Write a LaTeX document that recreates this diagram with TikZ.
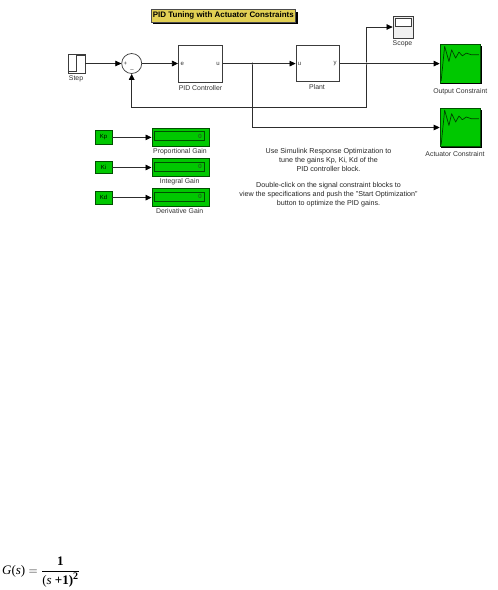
\documentclass[tikz,border=0pt]{standalone}
\usepackage{fontspec}
\setmainfont{Liberation Sans}
\newfontfamily\serifform{Liberation Serif}
\usetikzlibrary{arrows.meta,calc}
\definecolor{simgreen}{RGB}{0,200,0}
\definecolor{darkgreen}{RGB}{0,80,0}
\definecolor{titleyellow}{RGB}{226,208,84}
\definecolor{wirecol}{RGB}{45,45,45}
\definecolor{framecol}{RGB}{60,60,60}
\tikzset{
 x=1pt,y=-1pt,
 block/.style={draw=framecol,line width=0.7pt,fill=white,inner sep=0pt,minimum width=44.4pt,minimum height=37pt},
 sigbox/.style={draw=darkgreen,line width=0.6pt,fill=simgreen,inner sep=0pt,minimum width=40.7pt,minimum height=38.4pt},
 gainbox/.style={draw=darkgreen,line width=0.7pt,fill=simgreen,inner sep=0pt,minimum width=17pt,minimum height=13.5pt,font=\fontsize{6}{7}\selectfont},
 dispbox/.style={draw=darkgreen,line width=1pt,fill=simgreen,inner sep=0pt,minimum width=57pt,minimum height=17.6pt},
 sig/.style={draw=wirecol,line width=0.7pt},
 arr/.style={sig,-{Triangle[length=6pt,width=5.6pt,color=black]}},
 lab/.style={inner sep=0pt,text=black!80,font=\fontsize{6.9}{8}\selectfont},
 port/.style={inner sep=0pt,text=black!80,font=\fontsize{6}{7}\selectfont},
 note/.style={inner sep=0pt,text=black!85,align=center,font=\fontsize{7.15}{9.1}\selectfont},
 jdot/.style={circle,fill=black,inner sep=0pt,minimum size=2.2pt},
}
\newcommand{\sigcurve}[1]{%
 \fill[black] ($(#1.south west)+(1.6,0)$) rectangle ($(#1.south east)+(1.2,1.2)$);
 \fill[black] ($(#1.north east)+(0,1.6)$) rectangle ($(#1.south east)+(1.2,0)$);
 \draw[black!75!green,line width=0.7pt,line join=round,shift={(#1.north west)}]
  (1.5,36.7) -- (5,2.2) -- (9.3,17.4) -- (12,5.7) -- (16,14) -- (19.3,8) -- (22.7,11.7) -- (26.7,9) -- (31.7,10.7) -- (39.3,10.7);
}
\newcommand{\gaindisp}[1]{%
 \draw[darkgreen,line width=0.7pt] ($(#1.north west)+(3,3.7)$) rectangle ($(#1.north east)+(-5,12.7)$);
 \node[inner sep=0pt,font=\fontsize{6}{7}\selectfont,text=black!80] at ($(#1.north east)+(-9.5,8.2)$) {0};
}
\begin{document}
\begin{tikzpicture}
\useasboundingbox[fill=white] (0,0) rectangle (498,590);
% title
\fill (153,11.5) rectangle (297.5,24);
\node[draw=black!70,line width=0.5pt,fill=titleyellow,inner sep=0pt,minimum width=144.6pt,minimum height=12.4pt,font=\bfseries\fontsize{7.95}{9}\selectfont] (title) at (223.3,15.6) {PID Tuning with Actuator Constraints};
% blocks
\node[draw=framecol,line width=0.8pt,fill=white,inner sep=0pt,minimum width=17pt,minimum height=19pt] (step) at (76.5,63.5) {};
\draw[framecol,line width=0.7pt] ($(step.south west)+(0.2,-2.2)$) -- ($(step.south west)+(8.5,-2.2)$) -- ($(step.north west)+(8.5,1.6)$) -- ($(step.north east)+(-0.2,1.6)$);
\node[lab] (steplab) at (76,79) {Step};
\node[circle,draw=framecol,line width=0.7pt,fill=white,inner sep=0pt,minimum size=20pt] (sum) at (131.7,63.5) {};
\node[port] (plus) at (125.5,63.6) {+};
\node[port] (minus) at (132,70.3) {--};
\node[block] (pid) at (200.5,63.6) {};
\node[port] (pide) at (182.2,63.6) {e};
\node[port] (pidu) at (218,63.6) {u};
\node[lab] (pidlab) at (200.5,88.3) {PID Controller};
\node[block,minimum width=43.7pt,minimum height=36.4pt] (plant) at (317.8,63.6) {};
\node[port] (plantu) at (299.5,63.6) {u};
\node[port] (planty) at (335,64) {y};
\node[lab] (plantlab) at (317,87.3) {Plant};
\node[draw=framecol,line width=0.7pt,fill=black!6,inner sep=0pt,minimum width=20.7pt,minimum height=22pt] (scope) at (403.3,27) {};
\draw[framecol,line width=0.6pt,fill=white] ($(scope.north west)+(2.5,3)$) rectangle ($(scope.north east)+(-2.5,11)$);
\node[lab] (scopelab) at (402.5,43.5) {Scope};
\node[sigbox] (out) at (460.3,63.6) {};
\sigcurve{out}
\node[lab] (outlab) at (460.3,91.3) {Output Constraint};
\node[sigbox] (act) at (460.3,127.5) {};
\sigcurve{act}
\node[lab] (actlab) at (455,154) {Actuator Constraint};
% gains
\node[gainbox] (kp) at (103.5,137.4) {Kp};
\node[gainbox,minimum height=12.4pt] (ki) at (103.5,167.5) {Ki};
\node[gainbox] (kd) at (103.5,197.6) {Kd};
\node[dispbox] (dp) at (180.5,137.4) {};
\gaindisp{dp}
\node[dispbox] (di) at (180.5,167.5) {};
\gaindisp{di}
\node[dispbox] (dd) at (180.5,197.6) {};
\gaindisp{dd}
\node[lab] (dpl) at (180,152) {Proportional Gain};
\node[lab] (dil) at (179.7,181.8) {Integral Gain};
\node[lab] (ddl) at (179.7,211.3) {Derivative Gain};
% text
\node[note] (n1) at (328.5,160) {Use Simulink Response Optimization to\\tune the gains Kp, Ki, Kd of the\\PID controller block.};
\node[note] (n2) at (328.5,195) {Double-click on the signal constraint blocks to\\view the specifications and push the "Start Optimization"\\button to optimize the PID gains.};
% junctions
\node[jdot] (j1) at (252.3,63.6) {};
\node[jdot] (j2) at (366.7,63.6) {};
\coordinate (fb) at (131.7,107.3);
% wires
\draw[arr] (step.east) -- (step.east -| sum.west);
\draw[arr] (sum.east) -- (sum.east -| pid.west);
\draw[arr] (pid.east) -- (plant.west);
\draw[arr] (plant.east) -- (out.west);
\draw[arr] (j2) |- (scope.west);
\draw[arr] (j2) |- (fb) -- (sum.south);
\draw[arr] (j1) |- (act.west);
\draw[arr] (kp.east) -- (dp.west);
\draw[arr] (ki.east) -- (di.west);
\draw[arr] (kd.east) -- (dd.west);
% formula
\node[inner sep=0pt,anchor=west,font=\serifform\fontsize{13}{15}\selectfont] (gs) at (2,572.5)
 {$\displaystyle \mbox{\itshape G}\mbox{(\itshape s\upshape)}=\frac{\mbox{\bfseries 1}}{\mbox{(\itshape s \upshape\bfseries+1)}^{\mbox{\fontsize{10}{11}\selectfont\bfseries 2}}}$};
\end{tikzpicture}
\end{document}
